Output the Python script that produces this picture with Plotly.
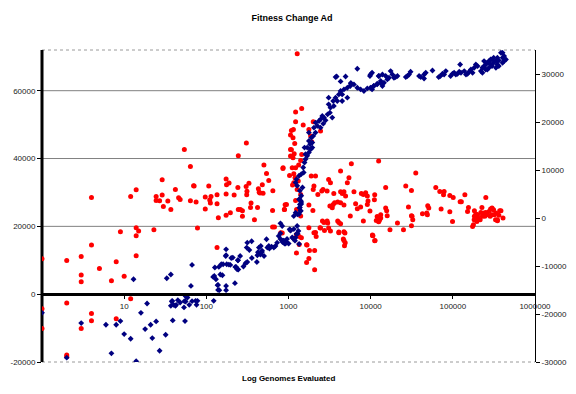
import plotly.graph_objects as go

# ---------------- data ----------------
# Red series: fitness change (right axis)
red_x = [
    1, 1, 1, 2, 2, 2, 2, 3, 3, 3,
    3, 4, 4, 4, 4, 5, 7, 8, 8, 9,
    10, 12, 12, 14, 14, 14, 15, 14, 23, 24.5,
    24.5, 29, 29, 27, 30, 34, 37, 42, 46, 48,
    54, 64, 64, 70, 71, 75, 78, 97, 97, 107,
    110, 112, 114, 135, 135, 140, 174, 176, 174, 174,
    189, 196, 218, 245, 242, 245, 135, 260, 275, 275,
    305, 312, 330, 310, 350, 345, 420, 385, 430, 440,
    480, 450, 490, 540, 575, 645, 640, 890, 910, 1030,
    307, 1085, 502, 855, 640, 675, 805, 1276, 1447, 1220,
    1220, 1085, 1147, 1058, 1135, 1190, 1058, 1173, 1058, 1135,
    1510, 1770, 2000, 2455, 1860, 1915, 1447, 1406, 1330, 1220,
    1110, 1160, 860, 1200, 1160, 1120, 1315, 1275, 1406, 1220,
    945, 894, 1252, 1770, 1980, 1406, 1890, 2133, 2040, 2000,
    2275, 2540, 2630, 3080, 3240, 2950, 3560, 3640, 3500, 3190,
    3410, 3970, 4305, 4510, 4730, 4950, 5200, 5440, 5820, 4305,
    4305, 4730, 3970, 4305, 5650, 6260, 6560, 6880, 7550, 7700,
    8150, 8690, 9110, 9280, 9110, 9800, 8150, 12500, 12640, 12880,
    2950, 2590, 2420, 1770, 2040, 2740, 3240, 4100, 4730, 4730,
    4900, 10500, 11300, 1435, 1350, 1680, 1250, 840, 1350, 1250,
    1660, 1800, 2133, 2170, 2080, 1770, 1660, 2080, 2455, 3080,
    3000, 2700, 4100, 4100, 4860, 4650, 4800, 10570, 12000, 35380,
    15230, 11200, 11100, 26740, 31360, 62000, 69390, 78330, 77000, 91900,
    101000, 140100, 122700, 127000, 252000, 15230, 15650, 13250, 15900, 11700,
    12500, 13250, 28840, 31360, 32520, 42690, 49500, 50930, 48170, 49000,
    72000, 91900, 99100, 151100, 155000, 21180, 17180, 25080, 31360, 10640,
    11200, 173900, 178000, 183000, 181800, 183000, 190600, 200000, 219400, 226000,
    240000, 252000, 263000, 276000, 288000, 300000, 313000, 334500, 349000, 363000,
    372000, 408000, 203000, 196000, 215000, 229000, 245000, 285000, 300000, 320000,
    331000, 349000, 385000, 300000, 31900,
]
red_y = [
    -8480, -18890, -23000, -8830, -17700, -28540, -28830, -8000, -11850, -13300,
    -23000, 4290, -5620, -19870, -21390, -10500, -13060, -9100, -20980, -2850,
    -12160, 4500, -16810, 5900, -2020, -3690, -2710, -7850, -2440, 4500,
    3670, 4790, 7980, 3600, 2420, 3540, 1790, 5960, 4230, 3870,
    14290, 10750, 3600, 6730, 6670, 3330, -2080, 4370, 1870, 6670,
    3750, 3120, 4500, 2980, 4850, 60, 8120, 6940, 5000, 580,
    7290, 1100, 4790, 12980, 6370, 1790, -6120, 1790, 1520, 370,
    6560, 5580, 7250, 4850, 3120, 2210, 2210, -350, 6100, 5380,
    6940, 5200, 5140, 9290, 7830, 5690, 1580, 1790, 2770, 8870,
    15620, 14230, 11040, 10330, -1870, -1870, -3060, 34220, 22830, 22080,
    20060, 18250, 18460, 17290, 16730, 15540, 14290, 13390, 12910, 12560,
    19370, 18460, 20060, 18120, 17080, 15890, 13250, 12000, 11040, 10480,
    10480, 9230, 10480, 8390, 7350, 6870, 7710, 5960, 4920, 3670,
    2830, 1790, 1790, 2710, 1580, 420, 8750, 8750, 6670, 5960,
    4920, 5620, 5960, 8040, 7350, 5620, 5120, 3190, 2830, 2500,
    2150, 3330, 5480, 5120, 5480, 4580, 7350, 8390, 11310, 9790,
    3190, 2710, -620, -1190, 420, 5480, 2980, 1940, 2290, 5120,
    4920, 5270, 4580, 3540, 2830, 1460, -620, 11870, -620, -290,
    -620, -620, -2020, -2020, -3060, -2580, -2710, -3060, -2850, -4670,
    -5150, -3540, -4670, -4100, -5500, -5620, -3420, -3120, -3830, -7290,
    -5560, -6750, -3000, -3830, -6750, -8420, -9250, -10770, -2080, -2080,
    -1040, -920, -920, -2920, -3120, -4370, -5770, -3620, 330, 9370,
    6370, 4850, 3810, 6650, 5750, 6370, 5540, 5540, 4850, 4710,
    4290, 4850, 3400, 3400, 4290, 2080, 1520, 690, 480, -500,
    -770, 0, 2290, 480, -350, 900, 2560, 2080, 1040, 690,
    1870, 1310, -710, 1370, 2210, -1040, -2440, -2440, -1600, -3690,
    -4730, -1750, -1400, 1520, -350, 370, 830, 690, 1170, 2210,
    1040, 1170, 690, 1370, 1870, 2080, 1730, 1040, -350, 580,
    1520, 0, 0, -710, -350, 370, 370, 370, 690, 690,
    -350, -560, 1520, 1940, 370,
]

# Blue series: cumulative fitness (left axis)
blue_x = [
    1, 2, 3, 6, 8, 9, 7, 10, 12, 14,
    16, 19, 18, 21, 24.5, 22, 32, 27, 13, 33,
    37, 38.5, 37, 42, 45, 48, 54, 53.5, 56, 59,
    62, 67, 76, 74, 78, 67, 65, 55, 39, 123,
    127, 131, 121, 148, 139, 139, 152, 160, 174, 172,
    174, 177, 196, 223, 230, 242, 245, 201, 57, 56,
    43, 40, 38, 125, 144, 137, 174, 157, 142, 188,
    174, 210, 225, 237, 243, 258, 283, 300, 315, 310,
    315, 356, 334, 358, 412, 418, 425, 436, 460, 476,
    504, 455, 476, 540, 553, 576, 586, 622, 663, 694,
    727, 760, 798, 835, 880, 919, 1005, 1032, 838, 798,
    1058, 1130, 1220, 1290, 1320, 1275, 845, 894, 960, 1160,
    1220, 1290, 1406, 1360, 1375, 1430, 1345, 1160, 1058, 1252,
    1110, 960, 860, 798, 1200, 1345, 1345, 1406, 1375, 1430,
    1406, 1360, 1430, 1375, 1480, 1275, 1220, 1252, 1345, 1430,
    1530, 1510, 1567, 1610, 1690, 1770, 1860, 1950, 1830, 1770,
    1900, 2000, 2133, 2040, 2250, 2350, 2455, 2700, 2826, 2650,
    2990, 3190, 3240, 3560, 3500, 3740, 4100, 4305, 4730, 5200,
    5650, 6256, 6880, 7550, 8280, 9100, 9950, 10900, 12000, 13250,
    3850, 4305, 4950, 5740, 6880, 5740, 9800, 12500, 3740, 2576,
    3080, 3080, 3920, 4500, 4500, 5200, 3410, 2455, 2133, 1770,
    1690, 1950, 1610, 1567, 9950, 10400, 10400, 10900, 12000, 13250,
    14520, 13900, 12640, 13900, 15230, 15960, 16700, 17500, 18390, 19200,
    20100, 21180, 26740, 28000, 29300, 30600, 38830, 40700, 44680, 46800,
    56510, 44680, 67300, 70500, 74830, 82170, 78330, 94000, 99100, 103700,
    108700, 114100, 119700, 122700, 125600, 137800, 144500, 151100, 158000, 165900,
    173900, 181800, 190600, 200000, 219400, 229000, 240000, 251000, 263000, 275000,
    288000, 300000, 314000, 334500, 349000, 363000, 385000, 403000, 421000, 443000,
    240000, 263000, 275000, 300000, 334500, 363000, 403000, 251000, 288000, 314000,
    349000, 421000, 403000, 229000,
]
blue_y = [
    -5500, -18730, -8530, -9030, -9030, -7940, -17440, -11760, -13150, -19790,
    -5500, -2740, -10290, -9030, -8030, -12940, -11970, -16680, 4410, 4710,
    5790, -1970, -3440, -3440, -1760, -2440, -2060, -3910, -590, -970,
    -3150, -2060, -3150, -1970, -1970, 8620, 2440, -7940, -7730, -1970,
    7850, 4410, 5090, 5790, 2740, 1260, 8820, 8820, 13230, 11260,
    2440, 8820, 8620, 3240, 8030, 9990, 7260, 10680, -680, -2150,
    -3150, -3150, -2150, 5380, 1180, 2650, 1180, 5590, 8030, 8730,
    11470, 10790, 8030, 7350, 10000, 11260, 8150, 9120, 9500, 13730,
    15200, 15590, 13030, 10680, 9500, 11470, 12350, 13730, 14210, 12850,
    11260, 11680, 12440, 16180, 13730, 14210, 13440, 14030, 13730, 14210,
    15200, 17150, 17940, 15790, 15790, 14910, 14910, 19120, 20090, 20880,
    18910, 16470, 16680, 17850, 18620, 20090, 15380, 14910, 15200, 23030,
    24030, 23530, 24500, 25500, 26470, 27150, 27940, 19200, 18730, 17730,
    16760, 16260, 15790, 16260, 15790, 14790, 23620, 24620, 25590, 26560,
    27560, 28030, 29030, 30500, 31470, 31970, 32940, 33910, 34910, 35380,
    35880, 37350, 38820, 39790, 40790, 41760, 42730, 43230, 44200, 45200,
    46170, 46670, 47640, 49110, 49610, 51080, 51560, 52060, 51260, 50290,
    53030, 53530, 55000, 55500, 56970, 57940, 58910, 59910, 60380, 60880,
    61380, 61850, 60880, 60380, 59910, 60670, 60880, 61380, 61850, 62350,
    64200, 62730, 64200, 62260, 66470, 62000, 64320, 64320, 64020, 52560,
    55970, 57940, 56970, 56970, 58910, 57940, 52060, 49110, 50590, 47640,
    43230, 44700, 41260, 43230, 64790, 65290, 60380, 61380, 62060, 62850,
    62350, 61380, 64320, 64790, 64320, 63320, 63820, 65790, 64790, 63820,
    64020, 64320, 64020, 64320, 64790, 65590, 64320, 64020, 64790, 65290,
    65970, 63610, 64020, 64320, 65000, 65790, 64790, 64320, 65000, 65290,
    64790, 65000, 65590, 67730, 65290, 65790, 64790, 65000, 65590, 66260,
    65290, 66760, 67730, 67260, 65790, 66760, 67260, 66260, 68230, 68730,
    67730, 69200, 68230, 68730, 67730, 68900, 71170, 69700, 68730, 69200,
    68730, 66260, 66760, 67260, 66760, 67260, 68230, 67730, 69200, 69700,
    69700, 70200, 71170, 65290,
]

x_tick_vals = [10, 100, 1000, 10000, 100000, 1000000]
x_tick_text = ["10", "100", "1000", "10000", "100000", "1000000"]
left_ticks = [-20000, 0, 20000, 40000, 60000]
left_grid = [20000, 40000, 60000]
right_ticks = [-30000, -20000, -10000, 0, 10000, 20000, 30000]
left_range = [-20000, 72000]
right_range = [-30000, 35000]

FONT = "Arial, Liberation Sans, sans-serif"

# The page places the figure 8px from the top-left corner (default body margin),
# so the figure is 8px smaller than the window and margins are shifted to match.
W, H = 568, 386

fig = go.Figure()
fig.add_trace(go.Scatter(
    x=red_x, y=red_y, mode="markers", yaxis="y", showlegend=False,
    marker=dict(symbol="circle", size=5, color="#FF0000", line=dict(width=0)),
    hoverinfo="skip"))
fig.add_trace(go.Scatter(
    x=blue_x, y=blue_y, mode="markers", yaxis="y2", showlegend=False,
    marker=dict(symbol="diamond", size=4.5, color="#000080", line=dict(width=0)),
    hoverinfo="skip"))

zero_pos = (0 - left_range[0]) / (left_range[1] - left_range[0])

shapes = []
for g in left_grid:
    shapes.append(dict(type="line", xref="paper", x0=0, x1=1, yref="y2", y0=g, y1=g,
                       line=dict(color="#808080", width=1), layer="below"))
for yp in (0, 1):
    shapes.append(dict(type="line", xref="paper", x0=0, x1=1, yref="paper", y0=yp, y1=yp,
                       line=dict(color="#9a9a9a", width=1, dash="dot"), layer="below"))
# thick left value-axis line (beneath the markers, as in the reference)
shapes.append(dict(type="line", xref="paper", x0=0, x1=0, yref="paper", y0=0, y1=1,
                   line=dict(color="black", width=3), layer="below"))

fig.update_layout(
    width=W, height=H,
    margin=dict(l=34, r=41, t=42, b=32, autoexpand=False),
    paper_bgcolor="white", plot_bgcolor="white",
    font=dict(family=FONT, size=8, color="#000000"),
    title=dict(text="<b>Fitness Change Ad</b>", x=0.5, xanchor="center",
               y=1 - 10 / H, yanchor="middle",
               font=dict(family=FONT, size=9, color="#000000")),
    xaxis=dict(type="log", range=[0, 6], anchor="free", position=zero_pos,
               tickvals=x_tick_vals, ticktext=x_tick_text,
               showline=True, linecolor="black", linewidth=3,
               ticks="outside", ticklen=3, tickcolor="black",
               showgrid=False, zeroline=False,
               tickfont=dict(family=FONT, size=8, color="#222")),
    yaxis=dict(side="right", range=right_range, tickvals=right_ticks,
               ticktext=[str(v) for v in right_ticks],
               showline=True, linecolor="black", linewidth=1,
               ticks="outside", ticklen=4, tickcolor="black",
               showgrid=False, zeroline=False, anchor="x",
               tickfont=dict(family=FONT, size=8, color="#222")),
    yaxis2=dict(side="left", overlaying="y", range=left_range, tickvals=left_ticks,
                ticktext=[str(v) for v in left_ticks],
                showline=False,
                ticks="outside", ticklen=4, tickcolor="black",
                showgrid=False, zeroline=False, anchor="x",
                tickfont=dict(family=FONT, size=8, color="#222")),
    shapes=shapes,
    annotations=[dict(text="<b>Log Genomes Evaluated</b>", xref="paper", yref="paper",
                      x=0.5, y=-16 / 312, xanchor="center", yanchor="middle",
                      showarrow=False, font=dict(family=FONT, size=8, color="#000000"))],
)

fig.write_html("out.html")
